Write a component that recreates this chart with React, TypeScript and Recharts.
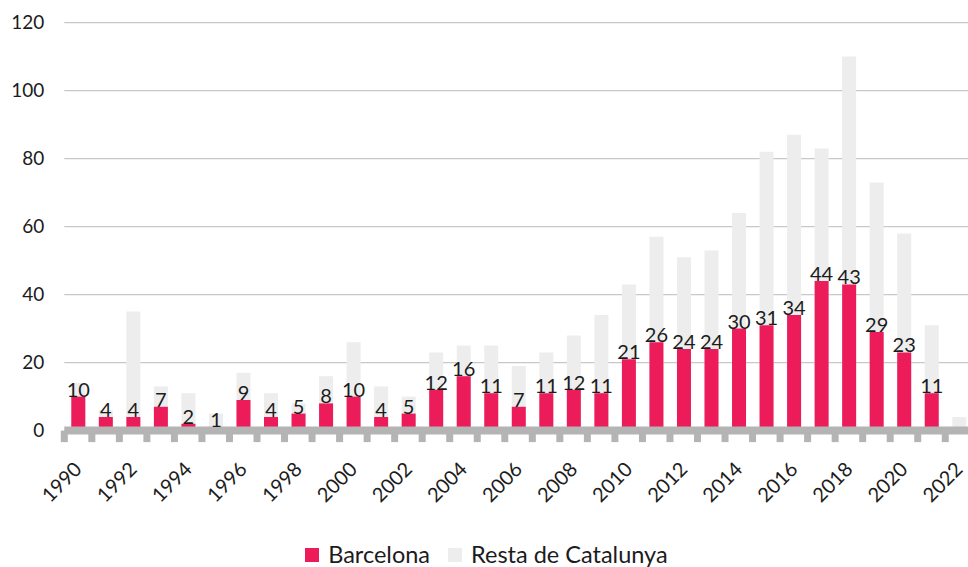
import { BarChart, Bar, XAxis, YAxis, CartesianGrid, Legend, LabelList } from 'recharts';

// values
const years = [
  1990, 1991, 1992, 1993, 1994, 1995, 1996, 1997, 1998, 1999, 2000,
  2001, 2002, 2003, 2004, 2005, 2006, 2007, 2008, 2009, 2010, 2011,
  2012, 2013, 2014, 2015, 2016, 2017, 2018, 2019, 2020, 2021, 2022,
];
const barcelona = [
  10, 4, 4, 7, 2, 1, 9, 4, 5, 8, 10,
  4, 5, 12, 16, 11, 7, 11, 12, 11, 21, 26,
  24, 24, 30, 31, 34, 44, 43, 29, 23, 11, null,
];
const restaCatalunya = [
  14, 6, 35, 13, 11, 5, 17, 11, 8, 16, 26,
  13, 10, 23, 25, 25, 19, 23, 28, 34, 43, 57,
  51, 53, 64, 82, 87, 83, 110, 73, 58, 31, 4,
];
const seriesNames = ['Barcelona', 'Resta de Catalunya'];
const yTicks = [0, 20, 40, 60, 80, 100, 120];

const PINK = '#ec1b5a';
const LIGHT = '#ededed';
const AXIS_GRAY = '#b4b4b4';
const GRID = '#c8c8c8';
const INK = '#1c1c1c';
const FONT = 'Lato, "Open Sans", sans-serif';

const CHART_W = 980;
const CHART_H = 567;
const MARGIN = { top: 22.6, right: 7.2, left: 0, bottom: 0 };
const Y_AXIS_W = 64.3;

const data = years.map((y, i) => ({
  year: String(y),
  barcelona: barcelona[i],
  resta: restaCatalunya[i],
}));

const YearTick = (props: any) => {
  const { x, y, index, payload, visibleTicksCount } = props;
  const count = visibleTicksCount || years.length;
  const plotW = props.width || CHART_W - MARGIN.left - MARGIN.right - Y_AXIS_W;
  const step = plotW / count;
  const showLabel = Number(payload.value) % 2 === 0;
  const lx = x + 5;
  const ly = y + 40;
  return (
    <g>
      <rect x={x - step / 2 - 3.5} y={y} width={7} height={11.5} fill={AXIS_GRAY} />
      {index === count - 1 && (
        <rect x={x + step / 2 - 3.5} y={y} width={7} height={11.5} fill={AXIS_GRAY} />
      )}
      {showLabel && (
        <text
          x={lx}
          y={ly}
          transform={`rotate(-45, ${lx}, ${ly})`}
          textAnchor="end"
          fill={INK}
          fontSize={20}
          fontFamily={FONT}
        >
          {payload.value}
        </text>
      )}
    </g>
  );
};

const colors = [PINK, LIGHT];

const LegendContent = () => (
  <div
    style={{
      display: 'flex',
      justifyContent: 'center',
      alignItems: 'center',
      height: 27,
      fontFamily: FONT,
      fontSize: 23.5,
      color: INK,
    }}
  >
    {seriesNames.map((name, i) => (
      <div key={name} style={{ display: 'flex', alignItems: 'center', marginRight: i === 0 ? 18 : 0 }}>
        <span style={{ width: 14, height: 14, background: colors[i], marginRight: 9, marginTop: 3, display: 'inline-block' }} />
        <span>{name}</span>
      </div>
    ))}
  </div>
);

export default function App() {
  return (
    <div style={{ width: CHART_W, height: CHART_H }}>
      <style>{`body{margin:0;overflow:hidden;}`}</style>
      <BarChart width={CHART_W} height={CHART_H} data={data} margin={MARGIN} barGap={-14} barCategoryGap={0}>
        <CartesianGrid vertical={false} stroke={GRID} strokeWidth={1.2} />
        <YAxis
          width={Y_AXIS_W}
          domain={[0, 120]}
          ticks={yTicks}
          axisLine={false}
          tickLine={false}
          tickSize={0}
          tickMargin={20}
          tick={{ fill: INK, fontSize: 19, fontFamily: FONT }}
        />
        <XAxis
          dataKey="year"
          height={109.4}
          interval={0}
          axisLine={{ stroke: AXIS_GRAY, strokeWidth: 8 }}
          tickLine={false}
          tickSize={0}
          tickMargin={0}
          tick={<YearTick />}
        />
        <Legend verticalAlign="bottom" content={<LegendContent />} />
        <Bar dataKey="resta" name={seriesNames[1]} fill={LIGHT} barSize={14} isAnimationActive={false} />
        <Bar dataKey="barcelona" name={seriesNames[0]} fill={PINK} barSize={14} isAnimationActive={false}>
          <LabelList dataKey="barcelona" position="top" offset={0} fill={INK} fontSize={20} fontFamily={FONT} />
        </Bar>
      </BarChart>
    </div>
  );
}
